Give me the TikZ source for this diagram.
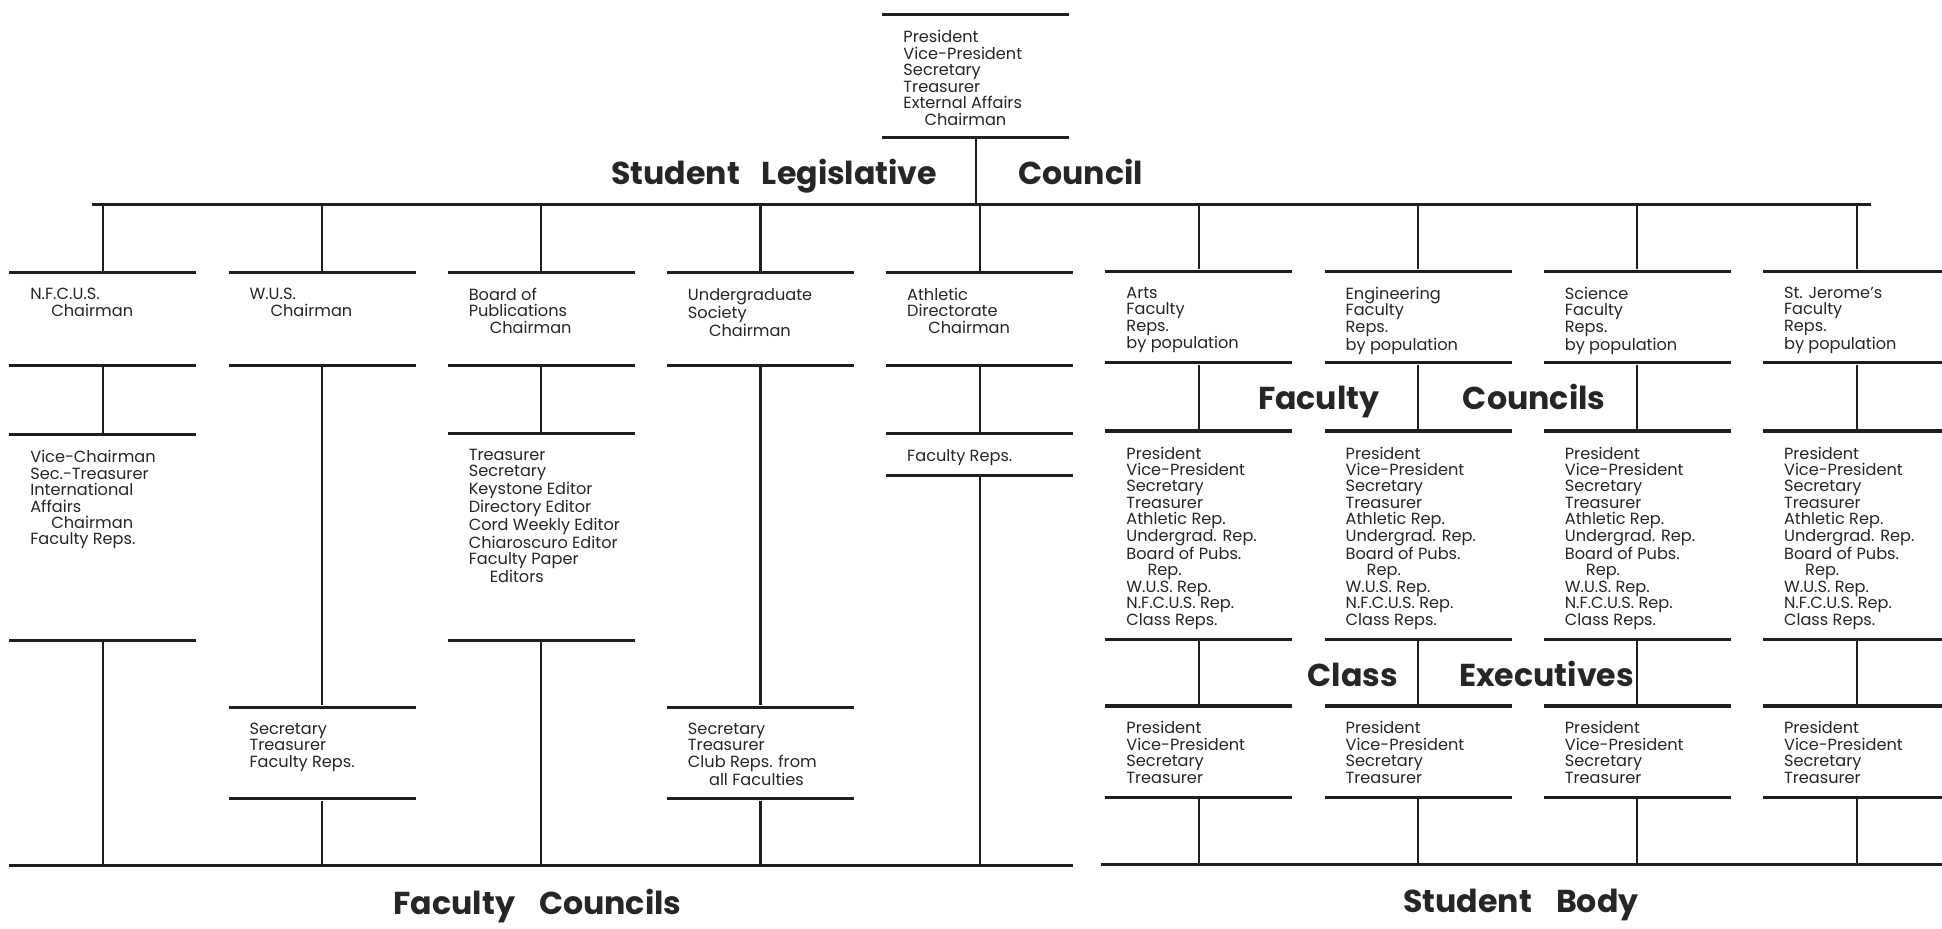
\documentclass[tikz,border=0pt]{standalone}
\usepackage{fontspec}
\setmainfont{Poppins}
\usetikzlibrary{positioning}
\begin{document}
\begin{tikzpicture}[x=0.03096cm, y=-0.03096cm,
  bar/.style={fill=black!88, inner sep=0pt, minimum width=4.675cm, minimum height=2.2pt},
  link/.style={draw=black!88, line width=1.5pt},
  txt/.style={align=left, inner sep=0pt, text=black!85, font=\fontsize{11.5}{11.7}\selectfont},
  head/.style={inner sep=0pt, text=black!85, font=\fontsize{22.5}{24}\selectfont\bfseries}]
\def\idt{\hspace*{15pt}}
\pgfmathsetmacro\xnf{83}
\pgfmathsetmacro\xwus{260}
\pgfmathsetmacro\xpub{437}
\pgfmathsetmacro\xug{614}
\pgfmathsetmacro\xath{791}
\pgfmathsetmacro\xarts{968}
\pgfmathsetmacro\xeng{1145}
\pgfmathsetmacro\xsci{1322}
\pgfmathsetmacro\xstj{1499}
\fill[white] (0,0) rectangle (1568,750);
\useasboundingbox (0,0) rectangle (1568,750);
% council at the top
\node[bar] (presT) at (788,12) {};
\node[bar] (presB) at (788,111) {};
\node[txt, below right=0.34cm and 0.526cm of presT.south west] (pres)
  {President\\Vice-President\\Secretary\\Treasurer\\External Affairs\\\idt Chairman};
\node[bar, minimum width=44.49cm] (slc) at (792.5,165) {};
\draw[link] (presB.south) -- (presB.south |- slc.north);
\node[head, anchor=base east] (slcL) at (757,149) {Student\hspace{0.55cm}Legislative};
\node[head, anchor=base west] (slcR) at (822,149) {Council};
% left branches
\node[bar] (nfT) at (\xnf,220) {};
\node[bar] (nfB) at (\xnf,295) {};
\node[bar] (nf2T) at (\xnf,351) {};
\node[bar] (nf2B) at (\xnf,517) {};
\node[txt, below right=0.34cm and 0.526cm of nfT.south west] (nf) {N.F.C.U.S.\\\idt Chairman};
\node[txt, below right=0.34cm and 0.526cm of nf2T.south west] (nf2)
  {Vice-Chairman\\Sec.-Treasurer\\International\\Affairs\\\idt Chairman\\Faculty Reps.};
\node[bar] (wusT) at (\xwus,220) {};
\node[bar] (wusB) at (\xwus,295) {};
\node[bar] (wus2T) at (\xwus,571) {};
\node[bar] (wus2B) at (\xwus,645) {};
\node[txt, below right=0.34cm and 0.526cm of wusT.south west] (wus) {W.U.S.\\\idt Chairman};
\node[txt, below right=0.34cm and 0.526cm of wus2T.south west] (wus2) {Secretary\\Treasurer\\Faculty Reps.};
\node[bar] (pubT) at (\xpub,220) {};
\node[bar] (pubB) at (\xpub,295) {};
\node[bar] (pub2T) at (\xpub,350) {};
\node[bar] (pub2B) at (\xpub,517) {};
\node[txt, below right=0.34cm and 0.526cm of pubT.south west] (pub) {Board of\\Publications\\\idt Chairman};
\node[txt, below right=0.34cm and 0.526cm of pub2T.south west] (pub2)
  {Treasurer\\Secretary\\Keystone Editor\\Directory Editor\\Cord Weekly Editor\\Chiaroscuro Editor\\Faculty Paper\\\idt Editors};
\node[bar] (ugT) at (\xug,220) {};
\node[bar] (ugB) at (\xug,295) {};
\node[bar] (ug2T) at (\xug,571) {};
\node[bar] (ug2B) at (\xug,645) {};
\node[txt, below right=0.34cm and 0.526cm of ugT.south west] (ug) {Undergraduate\\Society\\\idt Chairman};
\node[txt, below right=0.34cm and 0.526cm of ug2T.south west] (ug2) {Secretary\\Treasurer\\Club Reps. from\\\idt all Faculties};
\node[bar] (athT) at (\xath,220) {};
\node[bar] (athB) at (\xath,295) {};
\node[bar] (ath2T) at (\xath,350) {};
\node[bar] (ath2B) at (\xath,384) {};
\node[txt, below right=0.34cm and 0.526cm of athT.south west] (ath) {Athletic\\Directorate\\\idt Chairman};
\node[txt, below right=0.34cm and 0.526cm of ath2T.south west] (ath2) {Faculty Reps.};
\node[bar, minimum width=26.6cm] (fcl) at (436.5,699) {};
\node[head, anchor=base] (fcname) at (434,738) {Faculty\hspace{0.6cm}Councils};
\draw[link] (nfT.north) -- (nfT.north |- slc.south);
\draw[link] (wusT.north) -- (wusT.north |- slc.south);
\draw[link] (pubT.north) -- (pubT.north |- slc.south);
\draw[link] (ugT.north) -- (ugT.north |- slc.south);
\draw[link] (athT.north) -- (athT.north |- slc.south);
\draw[link] (nfB) -- (nf2T);
\draw[link] (wusB) -- (wus2T);
\draw[link] (pubB) -- (pub2T);
\draw[link] (ugB) -- (ug2T);
\draw[link] (athB) -- (ath2T);
\draw[link] (nf2B.south) -- (nf2B.south |- fcl.north);
\draw[link] (wus2B.south) -- (wus2B.south |- fcl.north);
\draw[link] (pub2B.south) -- (pub2B.south |- fcl.north);
\draw[link] (ug2B.south) -- (ug2B.south |- fcl.north);
\draw[link] (ath2B.south) -- (ath2B.south |- fcl.north);
% faculties
\def\reps{Faculty\\Reps.\\by population}
\def\fcmembers{President\\Vice-President\\Secretary\\Treasurer\\Athletic Rep.\\Undergrad. Rep.\\Board of Pubs.\\\idt Rep.\\W.U.S. Rep.\\N.F.C.U.S. Rep.\\Class Reps.}
\def\cemembers{President\\Vice-President\\Secretary\\Treasurer}
\node[bar] (artsT) at (\xarts,219) {};
\node[bar] (artsB) at (\xarts,293) {};
\node[bar] (arts2T) at (\xarts,348) {};
\node[bar] (arts2B) at (\xarts,516) {};
\node[bar] (arts3T) at (\xarts,570) {};
\node[bar] (arts3B) at (\xarts,644) {};
\node[txt, below right=0.34cm and 0.526cm of artsT.south west] (arts) {Arts\\\reps};
\node[txt, below right=0.34cm and 0.526cm of arts2T.south west] (arts2) {\fcmembers};
\node[txt, below right=0.34cm and 0.526cm of arts3T.south west] (arts3) {\cemembers};
\node[bar] (engT) at (\xeng,219) {};
\node[bar] (engB) at (\xeng,293) {};
\node[bar] (eng2T) at (\xeng,348) {};
\node[bar] (eng2B) at (\xeng,516) {};
\node[bar] (eng3T) at (\xeng,570) {};
\node[bar] (eng3B) at (\xeng,644) {};
\node[txt, below right=0.34cm and 0.526cm of engT.south west] (eng) {Engineering\\\reps};
\node[txt, below right=0.34cm and 0.526cm of eng2T.south west] (eng2) {\fcmembers};
\node[txt, below right=0.34cm and 0.526cm of eng3T.south west] (eng3) {\cemembers};
\node[bar] (sciT) at (\xsci,219) {};
\node[bar] (sciB) at (\xsci,293) {};
\node[bar] (sci2T) at (\xsci,348) {};
\node[bar] (sci2B) at (\xsci,516) {};
\node[bar] (sci3T) at (\xsci,570) {};
\node[bar] (sci3B) at (\xsci,644) {};
\node[txt, below right=0.34cm and 0.526cm of sciT.south west] (sci) {Science\\\reps};
\node[txt, below right=0.34cm and 0.526cm of sci2T.south west] (sci2) {\fcmembers};
\node[txt, below right=0.34cm and 0.526cm of sci3T.south west] (sci3) {\cemembers};
\node[bar] (stjT) at (\xstj,219) {};
\node[bar] (stjB) at (\xstj,293) {};
\node[bar] (stj2T) at (\xstj,348) {};
\node[bar] (stj2B) at (\xstj,516) {};
\node[bar] (stj3T) at (\xstj,570) {};
\node[bar] (stj3B) at (\xstj,644) {};
\node[txt, below right=0.34cm and 0.526cm of stjT.south west] (stj) {St. Jerome’s\\\reps};
\node[txt, below right=0.34cm and 0.526cm of stj2T.south west] (stj2) {\fcmembers};
\node[txt, below right=0.34cm and 0.526cm of stj3T.south west] (stj3) {\cemembers};
\node[bar, minimum width=21.24cm] (sbl) at (1232,698) {};
\node[head, anchor=base] (sbname) at (1228,737) {Student\hspace{0.6cm}Body};
\node[head, anchor=base east] (fcL) at (1114,331) {Faculty};
\node[head, anchor=base west] (fcR) at (1181,331) {Councils};
\node[head, anchor=base east] (ceL) at (1129,554) {Class};
\node[head, anchor=base west] (ceR) at (1178,554) {Executives};
\draw[link] (artsT.north) -- (artsT.north |- slc.south);
\draw[link] (engT.north) -- (engT.north |- slc.south);
\draw[link] (sciT.north) -- (sciT.north |- slc.south);
\draw[link] (stjT.north) -- (stjT.north |- slc.south);
\draw[link] (artsB) -- (arts2T);
\draw[link] (engB) -- (eng2T);
\draw[link] (sciB) -- (sci2T);
\draw[link] (stjB) -- (stj2T);
\draw[link] (arts2B) -- (arts3T);
\draw[link] (eng2B) -- (eng3T);
\draw[link] (sci2B) -- (sci3T);
\draw[link] (stj2B) -- (stj3T);
\draw[link] (arts3B.south) -- (arts3B.south |- sbl.north);
\draw[link] (eng3B.south) -- (eng3B.south |- sbl.north);
\draw[link] (sci3B.south) -- (sci3B.south |- sbl.north);
\draw[link] (stj3B.south) -- (stj3B.south |- sbl.north);
\end{tikzpicture}
\end{document}
